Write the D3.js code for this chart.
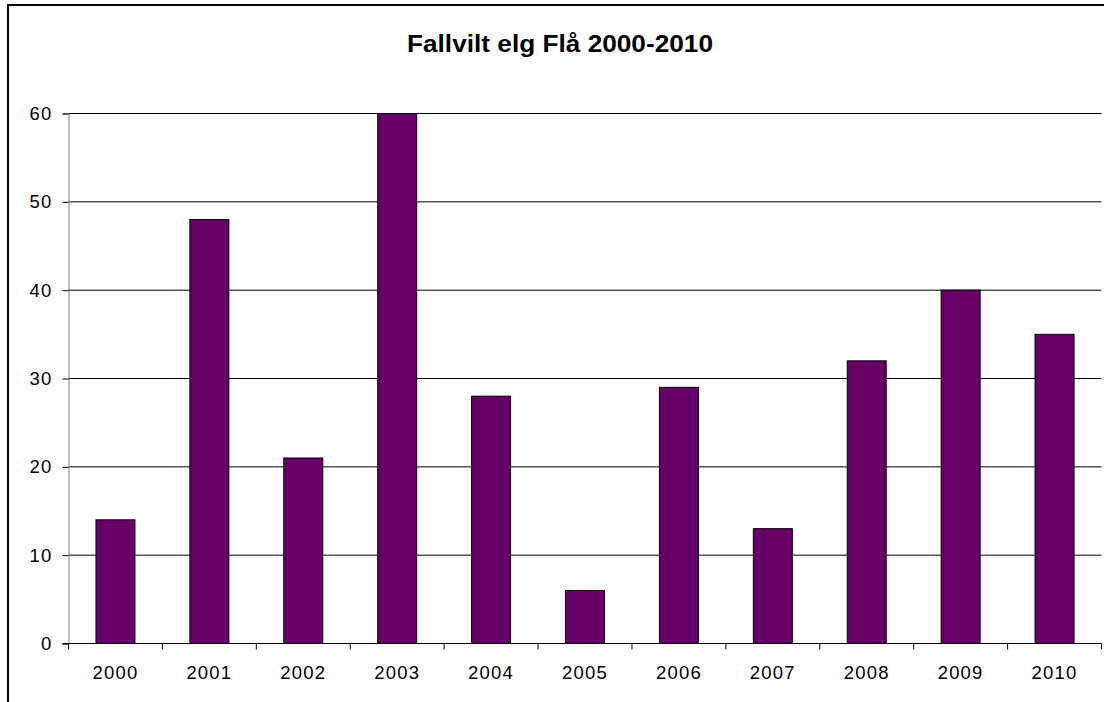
<!DOCTYPE html>
<html><head><meta charset="utf-8">
<script src="https://cdn.jsdelivr.net/npm/d3@7"></script>
<style>body{margin:0;background:#fff}svg{display:block}</style>
</head><body>
<script>
const categories = ["2000","2001","2002","2003","2004","2005","2006","2007","2008","2009","2010"];
const values = [14, 48, 21, 60, 28, 6, 29, 13, 32, 40, 35];
const yTicks = [0, 10, 20, 30, 40, 50, 60];
const title = "Fallvilt elg Flå 2000-2010";

(function () {
const W = 1104, H = 702;
const svg = d3.select("body").append("svg").attr("width", W).attr("height", H);
svg.append("rect").attr("x", 8).attr("y", 5).attr("width", 1200).attr("height", 800)
  .attr("fill", "none").attr("stroke", "#000").attr("stroke-width", 2);

const pL = 68.5, pR = 1101.5, pT = 113.5, pB = 643.5;
const x = d3.scaleBand().domain(categories).range([pL, pR]).paddingInner(0.585).paddingOuter(0.2925);
const y = d3.scaleLinear().domain([0, 60]).range([pB, pT]);

// gridlines
svg.append("g").selectAll("line").data(yTicks.filter(d => d > 0)).join("line")
  .attr("x1", pL).attr("x2", pR).attr("y1", d => y(d)).attr("y2", d => y(d))
  .attr("stroke", "#000").attr("stroke-width", 1);

// bars
svg.append("g").selectAll("rect").data(values).join("rect")
  .attr("x", (d, i) => x(categories[i]))
  .attr("y", d => y(d))
  .attr("width", x.bandwidth())
  .attr("height", d => y(0) - y(d))
  .attr("fill", "#660066").attr("stroke", "#000").attr("stroke-width", 1);

// y axis
const yAxis = d3.axisLeft(y).tickValues(yTicks).tickSize(6).tickPadding(10);
const gy = svg.append("g").attr("transform", `translate(${pL},0)`).call(yAxis);
gy.select(".domain").attr("stroke", "#808080");
gy.selectAll(".tick line").attr("stroke", "#000");
gy.selectAll("text").attr("font-family", "Liberation Sans, Arial, sans-serif")
  .attr("font-size", 18.5).attr("fill", "#000").attr("letter-spacing", 1.2);

// x axis with ticks at band boundaries
const bw = (pR - pL) / categories.length;
const gx = svg.append("g").attr("transform", `translate(0,${pB})`);
gx.append("line").attr("x1", pL - 6).attr("x2", pR).attr("y1", 0).attr("y2", 0).attr("stroke", "#000");
gx.selectAll("line.tk").data(d3.range(categories.length + 1)).join("line").attr("class", "tk")
  .attr("x1", i => pL + i * bw).attr("x2", i => pL + i * bw).attr("y1", 0).attr("y2", 6)
  .attr("stroke", "#000");
gx.selectAll("text").data(categories).join("text")
  .attr("x", d => x(d) + x.bandwidth() / 2).attr("y", 35)
  .attr("text-anchor", "middle")
  .attr("font-family", "Liberation Sans, Arial, sans-serif")
  .attr("font-size", 18.5).attr("letter-spacing", 1.2).text(d => d);

svg.append("text").attr("x", 560).attr("y", 52).attr("text-anchor", "middle")
  .attr("font-family", "Liberation Sans, Arial, sans-serif").attr("font-weight", "bold")
  .attr("font-size", 23).attr("textLength", 306).attr("lengthAdjust", "spacingAndGlyphs")
  .text(title);
})();
</script>
</body></html>
